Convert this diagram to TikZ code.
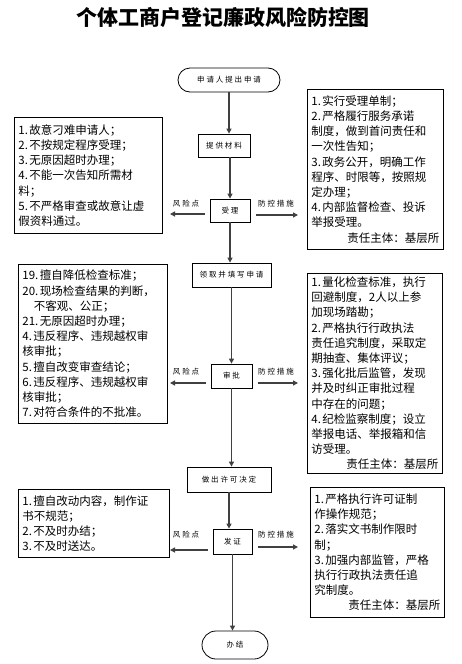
\documentclass[tikz,border=0pt]{standalone}
\usepackage{fontspec}
\setmainfont{Noto Sans CJK SC}
\newfontfamily\flowfont[LetterSpace=25]{Noto Sans CJK SC}
\usetikzlibrary{arrows.meta}
\definecolor{ArrowClr}{rgb}{0.25,0.25,0.25}
\newcommand\itm[1]{#1.\kern1.5pt}

\begin{document}
\begin{tikzpicture}[x=1pt,y=-1pt,
  flowbox/.style={draw,line width=0.8pt,inner sep=0pt,font={\flowfont\fontsize{7.5}{8}\selectfont}},
  endbox/.style={flowbox,rounded corners=12pt},
  notebox/.style={draw,line width=0.8pt,anchor=north west,inner xsep=4pt,inner ysep=2pt,align=left,font={\fontsize{11.5}{15.2}\selectfont}},
  tag/.style={font={\flowfont\fontsize{7.5}{8}\selectfont}},
  flowarrow/.style={-{Triangle[length=5pt,width=5pt]},line width=1.6pt,draw=ArrowClr},
  sidearrow/.style={-{Triangle[length=5pt,width=5pt]},line width=1.3pt,draw=ArrowClr}]
\useasboundingbox[fill=white] (0,0) rectangle (462,664);

\node[font={\bfseries\fontsize{21}{24}\selectfont}] (title) at (223,17) {个体工商户登记廉政风险防控图};

% main flow
\node[endbox,minimum width=102pt,minimum height=24pt] (start) at (229,80) {申请人提出申请};
\node[flowbox,minimum width=52pt,minimum height=23pt] (mat) at (224,145.5) {提供材料};
\node[flowbox,minimum width=40pt,minimum height=23pt] (acc) at (230,210.5) {受理};
\node[flowbox,minimum width=79pt,minimum height=24pt] (form) at (231.5,275) {领取并填写申请};
\node[flowbox,minimum width=41pt,minimum height=24pt] (appr) at (231.5,376) {审批};
\node[flowbox,minimum width=84pt,minimum height=25pt] (dec) at (229,479.5) {做出许可决定};
\node[flowbox,minimum width=39pt,minimum height=25pt] (cert) at (232.5,541.5) {发证};
\node[endbox,minimum width=66pt,minimum height=28pt,rounded corners=14pt] (done) at (235,645) {办结};

\draw[flowarrow] (start.south) -- (start.south |- mat.north);
\draw[flowarrow] (acc.north |- mat.south) -- (acc.north);
\draw[flowarrow] (acc.south) -- (acc.south |- form.north);
\draw[flowarrow] (form.south) -- (form.south |- appr.north);
\draw[flowarrow] (appr.south) -- (appr.south |- dec.north);
\draw[flowarrow] (dec.south) -- (dec.south |- cert.north);
\draw[flowarrow] (cert.south) -- (cert.south |- done.north);

\foreach \nd/\ya/\yb/\yl in {acc/214/215/204,appr/383/383/372,cert/550/547/535}{
  \coordinate (\nd-l) at (170,\ya);
  \coordinate (\nd-r) at (298,\yb);
  \draw[sidearrow] (\nd.west |- \nd-l) ++(-5,0) -- (\nd-l);
  \draw[sidearrow] (\nd.east |- \nd-r) ++(6,0) -- (\nd-r);
  \node[tag] (\nd-risk) at (186,\yl) {风险点};
  \node[tag] (\nd-ctrl) at (276,\yl) {防控措施};
}

% risk points
\node[notebox,text width=140pt,minimum width=148pt,minimum height=116pt] (risk1) at (14,117) {%
\itm1故意刁难申请人；\\
\itm2不按规定程序受理；\\
\itm3无原因超时办理；\\
\itm4不能一次告知所需材\\
料；\\
\itm5不严格审查或故意让虚\\
假资料通过。};

\node[notebox,text width=141pt,minimum width=149pt,minimum height=159pt] (risk2) at (18,264) {%
\itm{19}擅自降低检查标准；\\
\itm{20}现场检查结果的判断，\\
\hspace*{1em}不客观、公正；\\
\itm{21}无原因超时办理；\\
\itm4违反程序、违规越权审\\
核审批；\\
\itm5擅自改变审查结论；\\
\itm6违反程序、违规越权审\\
核审批；\\
\itm7对符合条件的不批准。};

\node[notebox,text width=143pt,minimum width=151pt,minimum height=68pt] (risk3) at (18,489) {%
\itm1擅自改动内容，制作证\\
书不规范；\\
\itm2不及时办结；\\
\itm3不及时送达。};

% control measures
\node[notebox,text width=128pt,minimum width=136pt,minimum height=160pt] (ctrl1) at (307,89) {%
\itm1实行受理单制；\\
\itm2严格履行服务承诺\\
制度，做到首问责任和\\
一次性告知；\\
\itm3政务公开，明确工作\\
程序、时限等，按照规\\
定办理；\\
\itm4内部监督检查、投诉\\
举报受理。\\
\hfill 责任主体：基层所\hspace{3pt}};

\node[notebox,text width=127pt,minimum width=135pt,minimum height=200pt] (ctrl2) at (307,273) {%
\itm1量化检查标准，执行\\
回避制度，2人以上参\\
加现场踏勘；\\
\itm2严格执行行政执法\\
责任追究制度，采取定\\
期抽查、集体评议；\\
\itm3强化批后监管，发现\\
并及时纠正审批过程\\
中存在的问题；\\
\itm4纪检监察制度；设立\\
举报电话、举报箱和信\\
访受理。\\
\hfill 责任主体：基层所\hspace{3pt}};

\node[notebox,text width=126pt,minimum width=134pt,minimum height=130pt] (ctrl3) at (310,487) {%
\itm1严格执行许可证制\\
作操作规范；\\
\itm2落实文书制作限时\\
制；\\
\itm3加强内部监管，严格\\
执行行政执法责任追\\
究制度。\\
\hfill 责任主体：基层所\hspace{3pt}};

\end{tikzpicture}
\end{document}
